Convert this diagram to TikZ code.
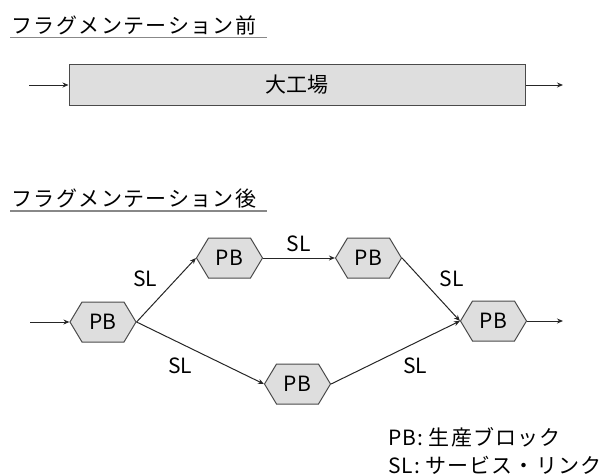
\documentclass[tikz,border=0pt]{standalone}
\usepackage{fontspec}
\setmainfont{Noto Sans CJK JP}
\usetikzlibrary{shapes.symbols,arrows.meta}
\definecolor{boxfill}{HTML}{DEDEDE}
\definecolor{boxline}{HTML}{4A4A4A}
\definecolor{uline}{HTML}{888888}
\tikzset{
  pb/.style={signal, signal to=east and west, signal pointer angle=118,
    draw=boxline, fill=boxfill, line width=1pt, minimum width=66pt,
    minimum height=40pt, inner sep=0pt, font=\fontsize{21}{21}\selectfont},
  flow/.style={draw=black!85, line width=1pt, -{Stealth[length=6pt,width=5pt]}},
  lbl/.style={font=\fontsize{21}{21}\selectfont, inner sep=0pt},
  leg/.style={font=\fontsize{21}{21}\selectfont\addfontfeature{LetterSpace=5}, inner sep=0pt, anchor=west},
  ttl/.style={font=\fontsize{21}{21}\selectfont\addfontfeature{LetterSpace=7}, inner sep=0pt, anchor=south west},
  under/.style={draw=uline, line width=1.2pt}
}
\begin{document}
\begin{tikzpicture}[x=1pt,y=-1pt]
\useasboundingbox (0,0) rectangle (611,475);
% titles
\node[ttl] (t1) at (11,35) {フラグメンテーション前};
\draw[under] (10,37.5) -- (267,37.5);
\node[ttl] (t2) at (11,208.5) {フラグメンテーション後};
\draw[under] (10,211) -- (267,211);
% big factory
\node[draw=boxline, fill=boxfill, line width=1pt, minimum width=456pt, minimum height=41pt, inner sep=0pt,
  font=\fontsize{21}{21}\selectfont] (big) at (297,85) {大工場};
\coordinate (bin) at (29,85);
\coordinate (bout) at (563,85);
\draw[flow] (bin) -- (big.west);
\draw[flow] (big.east) -- (bout);
% production blocks
\node[pb] (p1) at (103,322) {PB};
\node[pb] (p2) at (229.5,258) {PB};
\node[pb] (p3) at (368.5,258) {PB};
\node[pb] (p4) at (297.5,384) {PB};
\node[pb] (p5) at (493.5,321) {PB};
\coordinate (pin) at (30,322);
\coordinate (pout) at (563,321);
\draw[flow] (pin) -- (p1.west);
\draw[flow] (p1.east) -- (p2.west);
\draw[flow] (p1.east) -- (p4.west);
\draw[flow] (p2.east) -- (p3.west);
\draw[flow] (p3.east) -- (p5.west);
\draw[flow] (p4.east) -- (p5.west);
\draw[flow] (p5.east) -- (pout);
% labels
\node[lbl] (s1) at (145,279) {SL};
\node[lbl] (s2) at (180,366) {SL};
\node[lbl] (s3) at (298.5,244) {SL};
\node[lbl] (s4) at (451.5,279) {SL};
\node[lbl] (s5) at (415,366) {SL};
% legend
\node[leg] (l1) at (388,437) {PB: 生産ブロック};
\node[leg] (l2) at (388,465) {SL: サービス・リンク};
\end{tikzpicture}
\end{document}
